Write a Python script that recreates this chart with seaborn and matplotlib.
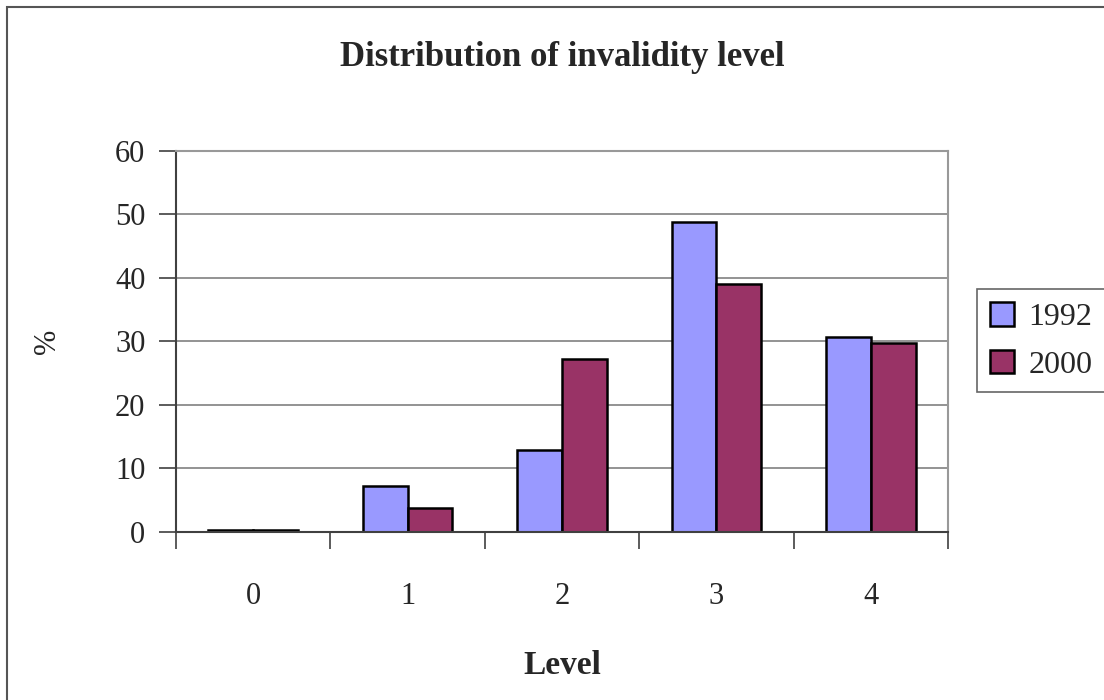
import pandas as pd
import matplotlib.pyplot as plt
import seaborn as sns
from matplotlib.patches import Rectangle

# values (percent)
levels = ["0", "1", "2", "3", "4"]
years = ["1992", "2000"]
pct_1992 = [0.25, 7.2, 12.9, 48.8, 30.7]
pct_2000 = [0.25, 3.8, 27.2, 39.0, 29.8]

colors = {"1992": "#9999FF", "2000": "#993366"}

df = pd.DataFrame({
    "Level": levels * 2,
    "year": ["1992"] * len(levels) + ["2000"] * len(levels),
    "pct": pct_1992 + pct_2000,
})

sns.set_style("white")
plt.rcParams["font.family"] = ["Liberation Serif", "DejaVu Serif"]

fig = plt.figure(figsize=(11.04, 7), dpi=100)
ax = fig.add_axes([0.1594, 0.24, 0.6993, 0.5443])

sns.barplot(data=df, x="Level", y="pct", hue="year", order=levels,
            hue_order=years, palette=colors, saturation=1, width=0.58,
            edgecolor="black", linewidth=1.8, ax=ax)

ax.set_xlim(-0.5, 4.5)
ax.set_ylim(0, 60)
ax.set_yticks(range(0, 61, 10))
ax.yaxis.grid(True, color="#808080", linewidth=1.2)
ax.set_axisbelow(True)

# ticks between the categories like the original
ax.set_xticks([-0.5, 0.5, 1.5, 2.5, 3.5, 4.5], minor=True)
ax.tick_params(axis="x", which="major", length=0, pad=36, labelsize=22)
ax.tick_params(axis="x", which="minor", length=12, width=1.2,
               color="#404040", direction="out", bottom=True)
ax.tick_params(axis="y", length=12, width=1.2, color="#404040",
               direction="out", left=True, pad=10, labelsize=22)

for side in ["left", "bottom"]:
    ax.spines[side].set_color("#404040")
    ax.spines[side].set_linewidth(1.5)
for side in ["right", "top"]:
    ax.spines[side].set_visible(True)
    ax.spines[side].set_color("#999999")
    ax.spines[side].set_linewidth(1.5)

ax.set_xlabel("Level", fontsize=24, fontweight="bold", labelpad=28)
ax.set_ylabel("%", fontsize=22, labelpad=38)
fig.suptitle("Distribution of invalidity level", x=0.509, y=0.942,
             fontsize=25, fontweight="bold")

leg = ax.legend(loc="center left", bbox_to_anchor=(0.885, 0.513),
                bbox_transform=fig.transFigure, fontsize=23,
                frameon=True, fancybox=False, edgecolor="#404040",
                handlelength=0.75, handleheight=0.75, handletextpad=0.45,
                borderpad=0.4, borderaxespad=0, labelspacing=0.55)
leg.get_frame().set_linewidth(1.2)

# outer chart frame
fig.patches.append(Rectangle((0.0065, -0.05), 1.2, 1.04, transform=fig.transFigure,
                             fill=False, edgecolor="#555555", linewidth=1.5))

fig.savefig("out.png", dpi=100)
